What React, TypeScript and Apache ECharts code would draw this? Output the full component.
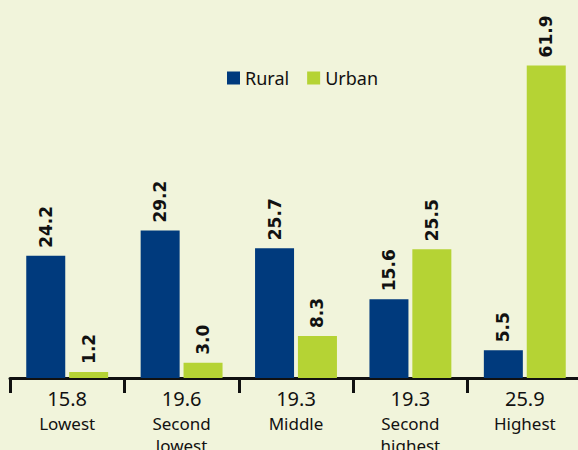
import React, { useEffect, useRef } from "react";
import * as echarts from "echarts";

const categories = ["Lowest", "Second\nlowest", "Middle", "Second\nhighest", "Highest"];
const categoryTotals = ["15.8", "19.6", "19.3", "19.3", "25.9"];
const ruralValues = [24.2, 29.2, 25.7, 15.6, 5.5];
const urbanValues = [1.2, 3.0, 8.3, 25.5, 61.9];
const seriesNames = ["Rural", "Urban"];

export default function App() {
  const ref = useRef<HTMLDivElement>(null);
  useEffect(() => {
    document.body.style.margin = "0";
    const chart = echarts.init(ref.current!, null, { renderer: "svg" });
    const labelCommon = {
      show: true,
      position: "top" as const,
      rotate: 90,
      distance: 8,
      align: "left" as const,
      verticalAlign: "middle" as const,
      fontFamily: "DejaVu Sans",
      fontWeight: "bold" as const,
      fontSize: 17,
      color: "#111",
      formatter: (p: any) => Number(p.value).toFixed(1),
    };
    chart.setOption({
      animation: false,
      backgroundColor: "#f1f4db",
      legend: {
        top: 64,
        left: 222,
        itemWidth: 13,
        itemHeight: 13,
        itemGap: 18,
        icon: "rect",
        textStyle: { fontFamily: "Noto Sans", fontSize: 18, color: "#111" },
        data: seriesNames,
      },
      grid: { left: 10, right: -4, top: 24.5, bottom: 72, containLabel: false, outerBoundsMode: "none" },
      xAxis: {
        type: "category",
        data: categories,
        axisLine: { lineStyle: { color: "#111", width: 3 } },
        axisTick: { show: true, interval: 0, alignWithLabel: false, length: 15, lineStyle: { color: "#111", width: 3 } },
        axisLabel: {
          interval: 0,
          margin: 6,
          fontFamily: "Noto Sans",
          color: "#111",
          formatter: (v: string, i: number) => `{a|${categoryTotals[i]}}\n{b|${v.split("\n").join("}\n{b|")}}`,
          rich: {
            a: { fontSize: 20, lineHeight: 28, fontFamily: "Noto Sans", color: "#111" },
            b: { fontSize: 17, lineHeight: 22, fontFamily: "Noto Sans", color: "#111" },
          },
        },
      },
      yAxis: { type: "value", min: 0, max: 70, show: false, splitLine: { show: false } },
      series: [
        {
          name: seriesNames[0],
          type: "bar",
          data: ruralValues,
          barWidth: 39,
          barGap: "10%",
          itemStyle: { color: "#003a7d" },
          label: labelCommon,
        },
        {
          name: seriesNames[1],
          type: "bar",
          data: urbanValues,
          barWidth: 39,
          barGap: "10%",
          itemStyle: { color: "#b5d334" },
          label: labelCommon,
        },
      ],
    });
    return () => chart.dispose();
  }, []);
  return <div ref={ref} style={{ width: 578, height: 450 }} />;
}
